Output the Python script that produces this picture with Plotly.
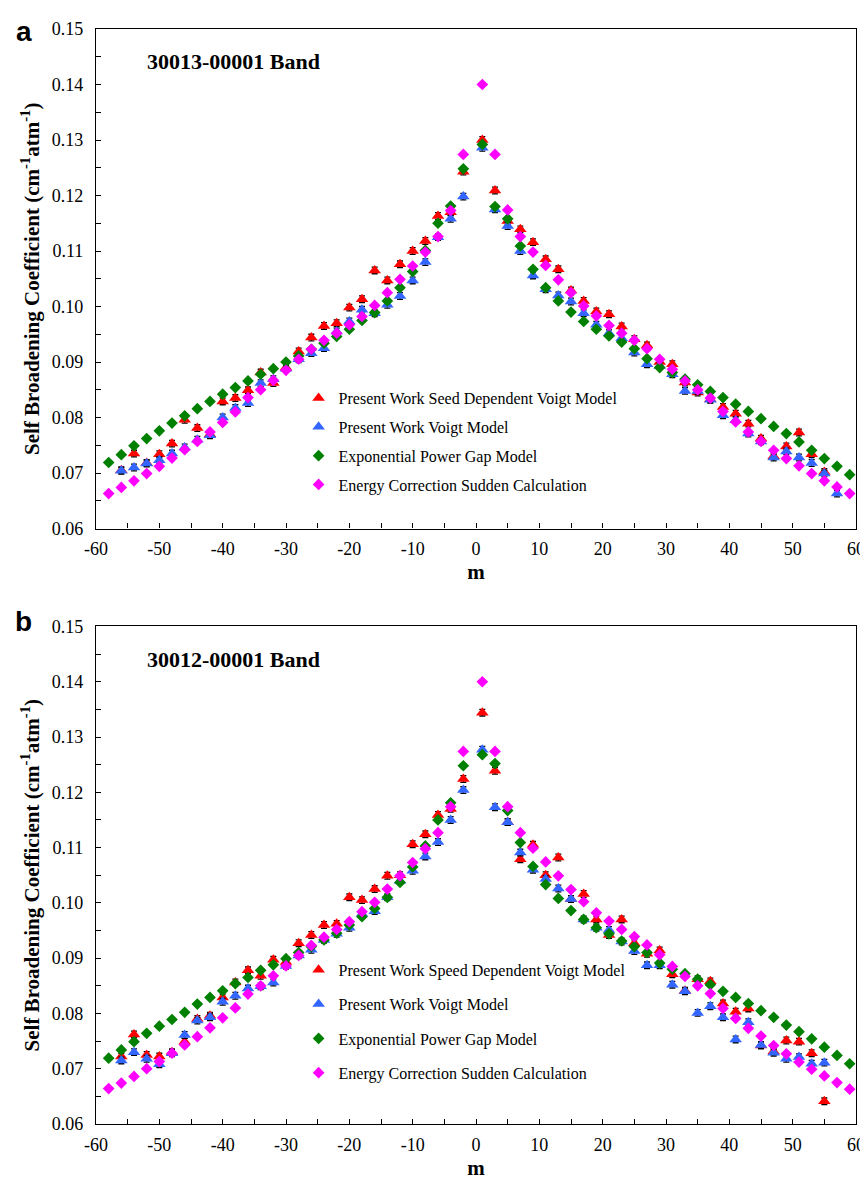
import plotly.graph_objects as go

# ---------------- data ----------------
m_vals = [-58, -56, -54, -52, -50, -48, -46, -44, -42, -40, -38, -36, -34, -32, -30,
          -28, -26, -24, -22, -20, -18, -16, -14, -12, -10, -8, -6, -4, -2,
          1, 3, 5, 7, 9, 11, 13, 15, 17, 19, 21, 23, 25, 27, 29, 31, 33, 35, 37,
          39, 41, 43, 45, 47, 49, 51, 53, 55, 57, 59]

# Panel a : 30013-00001 band
a_sdv = [None, 0.0705, 0.0735, 0.0718, 0.0734, 0.0753, 0.0796, 0.0781, 0.0770, 0.0829, 0.0835, 0.0849, 0.0881, 0.0862, 0.0890,
         0.0919, 0.0944, 0.0965, 0.0970, 0.0998, 0.1013, 0.1065, 0.1047, 0.1076, 0.1100, 0.1118, 0.1163, 0.1170, 0.1243,
         0.1300, 0.1209, 0.1154, 0.1139, 0.1116, 0.1085, 0.1067, 0.1029, 0.1010, 0.0991, 0.0986, 0.0964, 0.0941, 0.0930, 0.0900,
         0.0896, 0.0863, 0.0845, 0.0833, 0.0819, 0.0807, 0.0789, 0.0762, 0.0730, 0.0748, 0.0773, 0.0734, 0.0702, None, None]
a_voigt = [None, 0.0704, 0.0710, 0.0717, 0.0723, 0.0735, 0.0746, 0.0760, 0.0768, 0.0800, 0.0817, 0.0826, 0.0862, 0.0869, 0.0888,
           0.0905, 0.0916, 0.0925, 0.0955, 0.0973, 0.0994, 0.0988, 0.1003, 0.1019, 0.1047, 0.1080, 0.1125, 0.1158, 0.1198,
           0.1286, 0.1175, 0.1145, 0.1100, 0.1056, 0.1031, 0.1020, 0.1009, 0.0988, 0.0967, 0.0952, 0.0943, 0.0917, 0.0896, 0.0893,
           0.0878, 0.0848, 0.0848, 0.0832, 0.0804, 0.0795, 0.0771, 0.0757, 0.0728, 0.0739, 0.0728, 0.0718, 0.0699, 0.0663, None]
a_epg = [0.0719, 0.0733, 0.0749, 0.0762, 0.0776, 0.0790, 0.0803, 0.0816, 0.0829, 0.0842, 0.0854, 0.0866, 0.0878, 0.0888, 0.0900,
         0.0911, 0.0923, 0.0934, 0.0946, 0.0959, 0.0975, 0.0989, 0.1010, 0.1034, 0.1063, 0.1101, 0.1150, 0.1181, 0.1248,
         0.1292, 0.1180, 0.1158, 0.1109, 0.1067, 0.1034, 0.1010, 0.0990, 0.0973, 0.0959, 0.0947, 0.0936, 0.0924, 0.0906, 0.0890,
         0.0881, 0.0869, 0.0859, 0.0847, 0.0836, 0.0824, 0.0811, 0.0798, 0.0784, 0.0771, 0.0756, 0.0741, 0.0726, 0.0712, 0.0697]
a_ecs = [0.0663, 0.0674, 0.0686, 0.0699, 0.0712, 0.0727, 0.0742, 0.0757, 0.0774, 0.0791, 0.0810, 0.0836, 0.0850, 0.0867, 0.0885,
         0.0905, 0.0923, 0.0939, 0.0952, 0.0967, 0.0982, 0.1002, 0.1025, 0.1049, 0.1073, 0.1098, 0.1126, 0.1173, 0.1274,
         0.1400, 0.1274, 0.1174, 0.1126, 0.1098, 0.1074, 0.1048, 0.1025, 0.1001, 0.0983, 0.0966, 0.0952, 0.0939, 0.0924, 0.0905,
         0.0887, 0.0866, 0.0850, 0.0835, 0.0811, 0.0792, 0.0774, 0.0757, 0.0741, 0.0726, 0.0713, 0.0699, 0.0686, 0.0675, 0.0663]

# Panel b : 30012-00001 band
b_sdv = [None, 0.0722, 0.0762, 0.0725, 0.0722, 0.0730, 0.0749, 0.0790, 0.0796, 0.0829, 0.0856, 0.0878, 0.0868, 0.0897, 0.0893,
         0.0927, 0.0942, 0.0960, 0.0962, 0.1010, 0.1005, 0.1025, 0.1049, 0.1050, 0.1106, 0.1124, 0.1159, 0.1170, 0.1224,
         0.1344, 0.1239, 0.1146, 0.1079, 0.1105, 0.1050, 0.1082, 0.1007, 0.1016, 0.0970, 0.0942, 0.0970, 0.0927, 0.0908, 0.0914,
         0.0871, 0.0841, 0.0862, 0.0858, 0.0818, 0.0803, 0.0809, 0.0742, 0.0731, 0.0751, 0.0749, 0.0728, 0.0641, None, None]
b_voigt = [None, 0.0715, 0.0730, 0.0718, 0.0708, 0.0728, 0.0761, 0.0787, 0.0793, 0.0821, 0.0832, 0.0845, 0.0849, 0.0856, 0.0886,
           0.0905, 0.0915, 0.0933, 0.0944, 0.0955, 0.0980, 0.0985, 0.1010, 0.1040, 0.1058, 0.1084, 0.1110, 0.1150, 0.1204,
           0.1277, 0.1173, 0.1146, 0.1091, 0.1060, 0.1043, 0.1026, 0.1007, 0.0970, 0.0955, 0.0951, 0.0930, 0.0913, 0.0887, 0.0887,
           0.0852, 0.0840, 0.0801, 0.0813, 0.0793, 0.0753, 0.0784, 0.0743, 0.0729, 0.0718, 0.0721, 0.0709, 0.0711, None, None]
b_epg = [0.0719, 0.0734, 0.0749, 0.0764, 0.0777, 0.0789, 0.0802, 0.0817, 0.0829, 0.0841, 0.0854, 0.0865, 0.0878, 0.0888, 0.0899,
         0.0910, 0.0921, 0.0933, 0.0945, 0.0960, 0.0975, 0.0990, 0.1010, 0.1037, 0.1065, 0.1103, 0.1150, 0.1181, 0.1248,
         0.1268, 0.1252, 0.1167, 0.1109, 0.1066, 0.1033, 0.1008, 0.0986, 0.0970, 0.0955, 0.0944, 0.0931, 0.0921, 0.0910, 0.0891,
         0.0880, 0.0872, 0.0862, 0.0852, 0.0840, 0.0829, 0.0818, 0.0805, 0.0793, 0.0779, 0.0767, 0.0754, 0.0739, 0.0724, 0.0709]
b_ecs = [0.0664, 0.0674, 0.0686, 0.0700, 0.0713, 0.0728, 0.0743, 0.0758, 0.0774, 0.0792, 0.0810, 0.0835, 0.0850, 0.0868, 0.0886,
         0.0905, 0.0923, 0.0938, 0.0952, 0.0966, 0.0984, 0.1001, 0.1025, 0.1049, 0.1073, 0.1098, 0.1127, 0.1174, 0.1274,
         0.1400, 0.1274, 0.1174, 0.1127, 0.1099, 0.1074, 0.1049, 0.1024, 0.1002, 0.0982, 0.0967, 0.0952, 0.0939, 0.0924, 0.0906,
         0.0885, 0.0867, 0.0850, 0.0836, 0.0809, 0.0791, 0.0773, 0.0759, 0.0742, 0.0727, 0.0712, 0.0699, 0.0687, 0.0675, 0.0663]

err_size = 0.0006

x_tickvals = [-60, -50, -40, -30, -20, -10, 0, 10, 20, 30, 40, 50, 60]
x_ticktext = ["-60", "-50", "-40", "-30", "-20", "-10", "0", "10", "20", "30", "40", "50", "60"]

names_a = ["Present Work Seed Dependent Voigt Model", "Present Work Voigt Model",
           "Exponential Power Gap Model", "Energy Correction Sudden Calculation"]
names_b = ["Present Work Speed Dependent Voigt Model", "Present Work Voigt Model",
           "Exponential Power Gap Model", "Energy Correction Sudden Calculation"]
band_a = "30013-00001 Band"
band_b = "30012-00001 Band"

# ---------------- style ----------------
W, H = 868, 1178
ML, MR, MT, MB = 88, 11, 16, 55
PH = H - MT - MB
SERIF = "Times New Roman, Liberation Serif, serif"
colors = ["#FF0000", "#3366FF", "#008000", "#FF00FF"]
symbols = ["triangle-up", "triangle-up", "diamond", "diamond"]
sizes = [11, 11, 9, 9]
with_err = [True, True, False, False]


def py(p):
    return 1 - (p - MT) / PH


def px(p):
    return (p - ML) / (W - ML - MR)


fig = go.Figure()
for panel, (series, names, xa, ya, leg) in enumerate([
        ([a_sdv, a_voigt, a_epg, a_ecs], names_a, "x", "y", "legend"),
        ([b_sdv, b_voigt, b_epg, b_ecs], names_b, "x2", "y2", "legend2")]):
    for i, (vals, nm) in enumerate(zip(series, names)):
        fig.add_trace(go.Scatter(
            x=m_vals, y=vals, mode="markers", name=nm,
            xaxis=xa, yaxis=ya, legend=leg, legendgroup=f"{panel}-{i}",
            marker=dict(symbol=symbols[i], size=sizes[i], color=colors[i], line=dict(width=0)),
            error_y=dict(type="constant", value=err_size, color="black", thickness=1.3, width=3,
                         visible=with_err[i]),
        ))

axis_font = dict(family=SERIF, size=18, color="black")
title_font = dict(family=SERIF, size=21, color="black")


def xaxis(anchor):
    return dict(anchor=anchor, range=[-60, 60], tickmode="array", tickvals=x_tickvals, ticktext=x_ticktext,
                showgrid=False, zeroline=False,
                showline=True, linecolor="black", linewidth=1.3, mirror=True,
                ticks="inside", ticklen=5, tickcolor="black", tickwidth=1,
                minor=dict(ticks="inside", ticklen=5, dtick=5, tick0=-60, tickcolor="black", showgrid=False),
                tickfont=axis_font, ticklabelstandoff=4,
                title=dict(text="<b>m</b>", font=title_font, standoff=6), domain=[0, 1])


def yaxis(anchor, dom):
    return dict(anchor=anchor, range=[0.06, 0.15], dtick=0.01, tickformat=".2f", showgrid=False, zeroline=False,
                showline=True, linecolor="black", linewidth=1.3, mirror=True,
                ticks="inside", ticklen=5, tickcolor="black", tickwidth=1,
                minor=dict(ticks="inside", ticklen=5, dtick=0.005, tickcolor="black", showgrid=False),
                tickfont=axis_font, ticklabelstandoff=8,
                title=dict(text="<b>Self Broadening Coefficient (cm<sup>-1</sup>atm<sup>-1</sup>)</b>",
                           font=title_font, standoff=6),
                domain=dom)


leg_common = dict(font=dict(family=SERIF, size=16, color="black"), bgcolor="rgba(0,0,0,0)",
                  borderwidth=0, xanchor="left", yanchor="top", itemclick=False)

fig.update_layout(
    width=W, height=H, margin=dict(l=ML, r=MR, t=MT, b=MB),
    paper_bgcolor="white", plot_bgcolor="white",
    xaxis=xaxis("y"), yaxis=yaxis("x", [1 - 505 / PH, 1]),
    xaxis2=xaxis("y2"), yaxis2=yaxis("x2", [0, 503 / PH]),
    legend=dict(x=px(293), y=py(372), tracegroupgap=5, **leg_common),
    legend2=dict(x=px(293), y=py(950), tracegroupgap=10.5, **leg_common),
    showlegend=True,
    annotations=[
        dict(text="<b>a</b>", x=px(15), y=py(19), xref="paper", yref="paper", showarrow=False,
             xanchor="center", yanchor="middle", font=dict(family="Liberation Sans, Arial", size=28, color="black")),
        dict(text="<b>b</b>", x=px(15), y=py(615), xref="paper", yref="paper", showarrow=False,
             xanchor="center", yanchor="middle", font=dict(family="Liberation Sans, Arial", size=28, color="black")),
        dict(text=f"<b>{band_a}</b>", x=px(138), y=py(49), xref="paper", yref="paper", showarrow=False,
             xanchor="left", yanchor="middle", font=dict(family=SERIF, size=22, color="black")),
        dict(text=f"<b>{band_b}</b>", x=px(138), y=py(653), xref="paper", yref="paper", showarrow=False,
             xanchor="left", yanchor="middle", font=dict(family=SERIF, size=22, color="black")),
    ],
)

fig.write_html("out.html")
